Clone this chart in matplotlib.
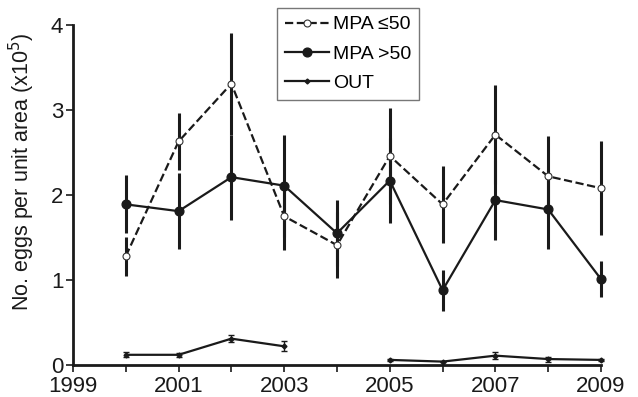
import numpy as np
import matplotlib.pyplot as plt

plt.rcParams['font.family'] = ['Liberation Sans', 'DejaVu Sans']

# datos
anios = [2000, 2001, 2002, 2003, 2004, 2005, 2006, 2007, 2008, 2009]
mpa_bajo = [1.28, 2.63, 3.31, 1.75, 1.41, 2.46, 1.89, 2.71, 2.22, 2.08]
mpa_bajo_err = [0.23, 0.34, 0.60, 0.40, 0.39, 0.56, 0.45, 0.58, 0.47, 0.55]
mpa_alto = [1.89, 1.81, 2.21, 2.11, 1.55, 2.17, 0.88, 1.94, 1.83, 1.01]
mpa_alto_err = [0.34, 0.45, 0.50, 0.60, 0.39, 0.50, 0.24, 0.47, 0.47, 0.21]
fuera = [0.12, 0.12, 0.31, 0.22, np.nan, 0.06, 0.04, 0.11, 0.07, 0.06]
fuera_err = [0.03, 0.02, 0.04, 0.06, np.nan, 0.01, 0.01, 0.04, 0.03, 0.01]

fig = plt.figure(figsize=(6.38, 3.97), dpi=100)
ax = fig.add_axes([0.1144, 0.0806, 0.8276, 0.8564])

# MPA <=50 (discontinua, circulo abierto)
ax.errorbar(anios, mpa_bajo, yerr=mpa_bajo_err, fmt='none', ecolor='#1a1a1a',
            elinewidth=2.2, capsize=0, zorder=2, clip_on=False)
l1, = ax.plot(anios, mpa_bajo, '--', color='#1a1a1a', lw=1.6, marker='o', ms=5,
              mfc='white', mec='#333333', mew=0.8, zorder=3, clip_on=False,
              label='MPA \u226450')

# MPA >50 (continua, circulo lleno)
ax.errorbar(anios, mpa_alto, yerr=mpa_alto_err, fmt='none', ecolor='#1a1a1a',
            elinewidth=2.2, capsize=0, zorder=2, clip_on=False)
l2, = ax.plot(anios, mpa_alto, '-', color='#1a1a1a', lw=1.6, marker='o', ms=6.3,
              mfc='#1a1a1a', mec='#1a1a1a', zorder=4, clip_on=False,
              label='MPA >50')

# OUT
ax.errorbar(anios, fuera, yerr=fuera_err, fmt='none', ecolor='#1a1a1a',
            elinewidth=1.0, capsize=2.5, capthick=1.0, zorder=2, clip_on=False)
l3, = ax.plot(anios, fuera, '-', color='#1a1a1a', lw=1.6, marker='D', ms=2.5,
              mfc='#1a1a1a', zorder=4, clip_on=False, label='OUT')

ax.set_xlim(1999, 2009)
ax.set_ylim(0, 4)
ax.set_xticks(range(1999, 2010, 2))
ax.set_xticks(range(1999, 2010), minor=True)
ax.set_yticks([0, 1, 2, 3, 4])
ax.tick_params(axis='both', which='both', direction='out', length=5, width=1.2,
               labelsize=16, color='#1a1a1a', labelcolor='#1a1a1a')
ax.tick_params(axis='x', pad=3)
ax.tick_params(axis='y', pad=2)

for lado in ['top', 'right']:
    ax.spines[lado].set_visible(False)
for lado in ['left', 'bottom']:
    ax.spines[lado].set_linewidth(2)
    ax.spines[lado].set_color('#1a1a1a')

ax.set_ylabel('No. eggs per unit area (x10$^5$)', fontsize=15.5, color='#1a1a1a')
ax.yaxis.set_label_coords(-0.068, 0.57)

leg = fig.legend(handles=[l1, l2, l3], loc='upper left',
                 bbox_to_anchor=(0.434, 0.98), fontsize=14, frameon=True,
                 fancybox=False, edgecolor='#555555', borderaxespad=0,
                 handlelength=2.3, handletextpad=0.2, labelspacing=0.6,
                 borderpad=0.4)
leg.get_frame().set_linewidth(1.0)

fig.savefig('out.png', dpi=100)
